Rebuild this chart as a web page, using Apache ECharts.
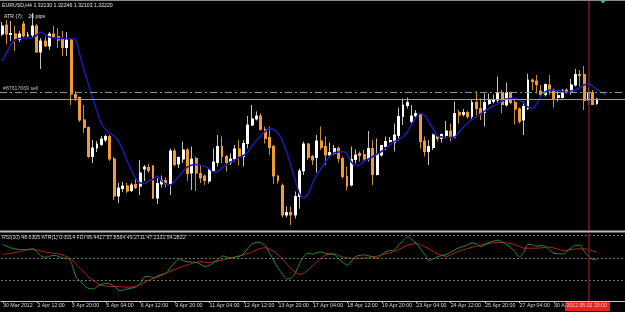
<!DOCTYPE html>
<html>
<head>
<meta charset="utf-8">
<script src="https://cdn.jsdelivr.net/npm/echarts@6/dist/echarts.min.js"></script>
<style>
html,body{margin:0;padding:0;background:#000;}
#chart{width:625px;height:312px;}
</style>
</head>
<body>
<div id="chart"></div>
<script>
// ---- data ----
const tickLabels = ["30 Mar 2012","2 Apr 12:00","3 Apr 20:00","5 Apr 04:00","6 Apr 12:00","9 Apr 20:00","11 Apr 04:00","12 Apr 12:00","13 Apr 20:00","17 Apr 04:00","18 Apr 12:00","19 Apr 20:00","23 Apr 04:00","24 Apr 12:00","25 Apr 20:00","27 Apr 04:00","30 Apr 12:00"];
const slotCount = 145;

const opens = [1.3352,1.3370,1.3351,1.3352,1.3341,1.3372,1.3349,1.3350,1.3368,1.3316,
1.3338,1.3328,1.3352,1.3347,1.3343,1.3325,1.3340,1.3231,1.3225,1.3180,
1.3165,1.3107,1.3124,1.3131,1.3140,1.3147,1.3102,1.3028,1.3043,1.3048,
1.3039,1.3051,1.3048,1.3082,1.3085,1.3088,1.3024,1.3052,1.3059,1.3052,
1.3118,1.3092,1.3102,1.3120,1.3074,1.3103,1.3073,1.3068,1.3058,1.3079,
1.3095,1.3127,1.3107,1.3095,1.3102,1.3122,1.3107,1.3133,1.3170,1.3182,
1.3188,1.3161,1.3145,1.3127,1.3068,1.3049,1.2990,1.2995,1.2990,1.3027,
1.3078,1.3132,1.3107,1.3105,1.3138,1.3127,1.3110,1.3113,1.3123,1.3103,
1.3067,1.3050,1.3101,1.3113,1.3111,1.3102,1.3123,1.3071,1.3110,1.3127,
1.3137,1.3135,1.3149,1.3187,1.3209,1.3177,1.3188,1.3191,1.3138,1.3117,
1.3125,1.3147,1.3143,1.3149,1.3158,1.3145,1.3195,1.3191,1.3195,1.3187,
1.3215,1.3203,1.3195,1.3213,1.3217,1.3220,1.3235,1.3210,1.3235,1.3215,
1.3202,1.3180,1.3203,1.3260,1.3258,1.3238,1.3231,1.3250,1.3240,1.3225,
1.3225,1.3240,1.3235,1.3250,1.3271,1.3271,1.3220,1.3235,1.32130];

const closes = [1.3368,1.3352,1.3353,1.3341,1.3352,1.3348,1.3350,1.3368,1.3316,1.3338,
1.3328,1.3352,1.3346,1.3340,1.3325,1.3340,1.3232,1.3224,1.3180,1.3165,
1.3107,1.3124,1.3132,1.3142,1.3147,1.3102,1.3028,1.3044,1.3048,1.3038,
1.3050,1.3045,1.3074,1.3086,1.3079,1.3024,1.3053,1.3060,1.3052,1.3118,
1.3091,1.3105,1.3120,1.3073,1.3102,1.3074,1.3064,1.3059,1.3080,1.3096,
1.3127,1.3107,1.3095,1.3102,1.3122,1.3107,1.3133,1.3170,1.3182,1.3188,
1.3161,1.3143,1.3125,1.3068,1.3059,1.2990,1.2995,1.2990,1.3027,1.3078,
1.3132,1.3105,1.3100,1.3138,1.3125,1.3110,1.3115,1.3123,1.3103,1.3067,
1.3048,1.3101,1.3110,1.3109,1.3102,1.3123,1.3071,1.3111,1.3129,1.3137,
1.3139,1.3150,1.3187,1.3210,1.3215,1.3188,1.3193,1.3137,1.3117,1.3127,
1.3150,1.3143,1.3151,1.3158,1.3145,1.3193,1.3190,1.3195,1.3187,1.3215,
1.3203,1.3191,1.3215,1.3221,1.3221,1.3235,1.3211,1.3235,1.3215,1.3202,
1.3177,1.3207,1.3260,1.3257,1.3251,1.3231,1.3251,1.3238,1.3223,1.3229,
1.3238,1.3235,1.3250,1.3271,1.3269,1.3219,1.3235,1.3211,1.32220];

const highs = [1.3376,1.3380,1.3378,1.3368,1.3358,1.3378,1.3356,1.3394,1.3372,1.3344,
1.3347,1.3356,1.3368,1.3364,1.3358,1.3356,1.3344,1.3238,1.3227,1.3210,
1.3167,1.3140,1.3138,1.3148,1.3151,1.3150,1.3106,1.3054,1.3056,1.3054,
1.3054,1.3064,1.3100,1.3090,1.3092,1.3090,1.3064,1.3069,1.3065,1.3123,
1.3123,1.3107,1.3137,1.3124,1.3127,1.3107,1.3090,1.3071,1.3083,1.3123,
1.3150,1.3147,1.3110,1.3113,1.3130,1.3140,1.3140,1.3188,1.3210,1.3197,
1.3193,1.3167,1.3167,1.3130,1.3070,1.3053,1.3007,1.3007,1.3037,1.3083,
1.3137,1.3133,1.3110,1.3150,1.3167,1.3147,1.3135,1.3130,1.3127,1.3107,
1.3087,1.3127,1.3121,1.3117,1.3120,1.3158,1.3140,1.3143,1.3130,1.3147,
1.3146,1.3173,1.3205,1.3223,1.3225,1.3210,1.3200,1.3193,1.3147,1.3140,
1.3153,1.3150,1.3153,1.3178,1.3173,1.3217,1.3200,1.3202,1.3198,1.3220,
1.3237,1.3223,1.3233,1.3233,1.3231,1.3267,1.3240,1.3255,1.3237,1.3223,
1.3205,1.3217,1.3273,1.3263,1.3270,1.3250,1.3253,1.3270,1.3243,1.3240,
1.3242,1.3243,1.3262,1.3282,1.3280,1.3288,1.3245,1.3240,1.32246];

const lows = [1.3348,1.3332,1.3338,1.3318,1.3336,1.3344,1.3344,1.3344,1.3314,1.3282,
1.3326,1.3320,1.3344,1.3324,1.3308,1.3308,1.3210,1.3218,1.3176,1.3154,
1.3104,1.3094,1.3116,1.3128,1.3136,1.3098,1.3020,1.3014,1.3036,1.3034,
1.3036,1.3042,1.3030,1.3058,1.3074,1.3022,1.3012,1.3045,1.3045,1.3030,
1.3087,1.3084,1.3094,1.3058,1.3040,1.3038,1.3054,1.3050,1.3053,1.3076,
1.3087,1.3094,1.3077,1.3090,1.3097,1.3089,1.3087,1.3123,1.3168,1.3179,
1.3159,1.3133,1.3110,1.3052,1.3053,1.2985,1.2985,1.2970,1.2983,1.3003,
1.3070,1.3100,1.3090,1.3075,1.3120,1.3090,1.3107,1.3110,1.3095,1.3063,
1.3039,1.3047,1.3093,1.3097,1.3097,1.3097,1.3050,1.3069,1.3107,1.3120,
1.3134,1.3117,1.3138,1.3170,1.3203,1.3173,1.3185,1.3123,1.3107,1.3090,
1.3120,1.3137,1.3135,1.3143,1.3137,1.3143,1.3173,1.3187,1.3183,1.3180,
1.3190,1.3180,1.3167,1.3210,1.3213,1.3215,1.3193,1.3207,1.3211,1.3171,
1.3173,1.3150,1.3200,1.3240,1.3233,1.3227,1.3227,1.3230,1.3205,1.3217,
1.3223,1.3233,1.3231,1.3247,1.3247,1.3200,1.3210,1.3210,1.32103];

const maValues = [1.3298,1.3314,1.3330,1.3340,1.3343,1.3344,1.3344,1.3344,1.3350,1.3356,
1.3351,1.3346,1.3344,1.3343,1.3343,1.3343,1.3343,1.3341,1.3311,1.3280,
1.3252,1.3224,1.3197,1.3173,1.3161,1.3153,1.3148,1.3137,1.3120,1.3098,
1.3080,1.3063,1.3054,1.3053,1.3058,1.3061,1.3068,1.3058,1.3052,1.3050,
1.3058,1.3067,1.3078,1.3086,1.3090,1.3091,1.3090,1.3087,1.3083,1.3076,
1.3077,1.3084,1.3090,1.3096,1.3100,1.3105,1.3109,1.3116,1.3128,1.3139,
1.3148,1.3157,1.3163,1.3161,1.3154,1.3139,1.3117,1.3088,1.3060,1.3032,
1.3024,1.3033,1.3054,1.3070,1.3083,1.3096,1.3107,1.3114,1.3116,1.3117,
1.3112,1.3096,1.3089,1.3090,1.3098,1.3102,1.3107,1.3112,1.3117,1.3124,
1.3131,1.3137,1.3141,1.3146,1.3156,1.3171,1.3185,1.3193,1.3190,1.3176,
1.3162,1.3148,1.3146,1.3145,1.3145,1.3146,1.3156,1.3165,1.3174,1.3181,
1.3186,1.3192,1.3198,1.3203,1.3208,1.3212,1.3218,1.3222,1.3223,1.3223,
1.3220,1.3214,1.3206,1.3203,1.3212,1.3228,1.3236,1.3240,1.3240,1.3239,
1.3237,1.3235,1.3238,1.3240,1.3244,1.3250,1.3253,1.3248,1.3241,1.3236,
1.3230];

const sellPrice = 1.3235;
const bidPrice = 1.32220;
const markerBar = 136;

const signalValues = [53.5,54,54.5,55.2,56,56.8,57.5,58,57.3,56.3,
55.4,55,54.3,53.7,52.5,51,48.5,44.5,40.7,36.8,
32.9,30.2,27.5,26,25.3,24.8,24.8,24.8,24.5,24.3,
24.6,25.6,26.8,28.7,30.6,32,33.3,34.9,36.8,38.6,
40.1,41.7,43,44.3,45.5,46.4,46.9,46.5,46.2,46.8,
47.5,48.4,49.5,50.4,51.3,52.2,53.3,54.3,55.9,57.6,
58.8,59.4,58.1,55.9,52.6,49.2,44.6,40.2,37.5,35.8,
37,40,43.5,47,50.5,52.8,54,53.8,52.3,50.8,
50.4,50.2,50,50,50.3,50.8,51.4,51.9,53,54,
55,55.9,57.8,59.8,61.7,62.4,63.1,62.1,60.2,58.2,
55.9,53.6,52.7,51.6,52.8,54.8,56.4,57.5,58.6,59.7,
60.7,61.7,62.5,63.1,63.7,64.2,63.9,63.6,63.2,61.8,
60.3,58.9,58.9,58.9,58.9,59.2,59.5,59.8,59,58,
57,57.2,57.7,58.2,58.3,58.3,57.8,56.4,55.2];

const rsiValues = [62,60.5,59,58.1,57.7,57.5,57.9,58.3,55,51.5,
50.8,52,52.6,51.3,50,50,44.5,33.3,29.3,25.5,
23,22.8,25.1,26.8,27.8,26.9,24.8,21.2,21.8,22.8,
23.6,24.5,28.4,33.6,33.7,32.5,34.5,35.8,37.2,42,
46.5,49,47.7,46.8,46.6,46.1,44.3,42.7,43.7,46.3,
49,52,51.1,50.2,51.1,51.7,54.4,59.2,62.9,64.2,
63.5,61,53.8,47.2,40.8,35.5,31.5,32.4,37.5,46,
52,54.4,53.5,55.2,55.4,54.3,53.6,53.2,49.6,46.2,
43.8,47.5,51.5,52.6,52.9,52.1,51,50.1,53.3,55.9,
56.7,57.4,62,66,69,66.8,63.3,58.2,53.2,48,
49.5,51.4,52.3,53.3,55.1,57.5,59.4,60.6,62,63.5,
62.8,60.3,62.2,64.1,65.2,66.1,64.2,62.1,59.2,55.7,
51,55.3,62.2,62,60.4,61.2,60.6,57,54.4,54,
53.7,56,59.1,61.5,61.6,56.3,51.9,49.1,48.63];

const rsiLevels = [70, 50, 30];

// ---- build ----
const categories = Array.from({length: slotCount}, (_, i) => 'b' + i);
const candleData = opens.map((o, i) => [o, closes[i], lows[i], highs[i]]);
const bodyData = opens.map((o, i) => [o, closes[i], Math.min(o, closes[i]), Math.max(o, closes[i])]);
const isTick = (idx) => idx % 8 === 0 && idx / 8 < tickLabels.length;
const FONT = '"Liberation Sans", Arial, sans-serif';
const markerLine = {xAxis: categories[markerBar], lineStyle: {color: '#7a1d16', width: 1.5, type: 'solid'}};

const chart = echarts.init(document.getElementById('chart'), null, {renderer: 'canvas'});
chart.setOption({
  backgroundColor: '#000000',
  animation: false,
  grid: [
    {left: -3, right: 0, top: 1, height: 229},
    {left: -3, right: 0, top: 233, height: 68}
  ],
  xAxis: [
    {type: 'category', gridIndex: 0, data: categories, boundaryGap: true, show: false},
    {type: 'category', gridIndex: 1, data: categories, boundaryGap: true,
     axisLine: {show: true, lineStyle: {color: '#c8c8c8', width: 1}},
     axisTick: {show: true, interval: isTick, alignWithLabel: true, length: 2, lineStyle: {color: '#c8c8c8'}},
     axisLabel: {interval: isTick, formatter: (v, idx) => isTick(idx) ? tickLabels[idx / 8] : '',
       color: '#d8d8d8', fontSize: 5.3, fontFamily: FONT, align: 'left', margin: 2},
     splitLine: {show: false}}
  ],
  yAxis: [
    {type: 'value', gridIndex: 0, min: 1.2960, max: 1.3418, show: false, splitLine: {show: false}},
    {type: 'value', gridIndex: 1, min: 12, max: 72.4, show: false, splitLine: {show: false}}
  ],
  series: [
    {
      name: 'wicks', type: 'candlestick', xAxisIndex: 0, yAxisIndex: 0, data: candleData,
      barWidth: 2.4, silent: true,
      itemStyle: {color: '#bfbfbf', color0: '#c98a35', borderColor: '#bfbfbf', borderColor0: '#c98a35', borderWidth: 1}
    },
    {
      name: 'EURUSD,H4', type: 'candlestick', xAxisIndex: 0, yAxisIndex: 0, data: bodyData,
      barWidth: 2.4, silent: true,
      itemStyle: {color: '#ffffff', color0: '#f29b2e', borderColor: '#ffffff', borderColor0: '#f29b2e', borderWidth: 1},
      markLine: {
        silent: true, symbol: 'none', label: {show: false}, precision: 6,
        data: [markerLine]
      }
    },
    {
      name: 'MA', type: 'line', xAxisIndex: 0, yAxisIndex: 0, data: maValues,
      showSymbol: false, smooth: 0.3, silent: true,
      lineStyle: {color: '#1a1aaa', width: 1.6},
      markLine: {
        silent: true, symbol: 'none', label: {show: false}, precision: 6,
        data: [
          {yAxis: sellPrice, lineStyle: {color: '#7c9a8a', width: 1, type: [7, 3, 2, 3]}},
          {yAxis: bidPrice, lineStyle: {color: '#8fa099', width: 1, type: 'solid'}}
        ]
      }
    },
    {
      name: 'signal', type: 'line', xAxisIndex: 1, yAxisIndex: 1, data: signalValues,
      showSymbol: false, smooth: 0.3, silent: true,
      lineStyle: {color: '#b3261e', width: 1}
    },
    {
      name: 'RSI(10)', type: 'line', xAxisIndex: 1, yAxisIndex: 1, data: rsiValues,
      showSymbol: false, smooth: 0.3, silent: true,
      lineStyle: {color: '#2f8a2f', width: 1},
      markLine: {
        silent: true, symbol: 'none', label: {show: false}, precision: 6,
        data: rsiLevels.map(v => ({yAxis: v, lineStyle: {color: '#7a7a7a', width: 1, type: [2, 2]}}))
          .concat([markerLine])
      }
    }
  ],
  graphic: [
    {type: 'rect', z: 50, shape: {x: 0, y: 0, width: 625, height: 1}, style: {fill: '#8a8a8a'}},
    {type: 'rect', z: 50, shape: {x: 0, y: 230.5, width: 625, height: 2}, style: {fill: '#bdbdbd'}},
    {type: 'text', z: 60, x: 2, y: 3, style: {text: 'EURUSD,H4 1.32130 1.32246 1.32103 1.32220', fill: '#e0e0e0', fontSize: 5.2, fontFamily: FONT, textVerticalAlign: 'top'}},
    {type: 'text', z: 60, x: 4, y: 14, style: {text: 'ATR (7):', fill: '#e0e0e0', fontSize: 5.2, fontFamily: FONT, textVerticalAlign: 'top'}},
    {type: 'text', z: 60, x: 28.3, y: 14, style: {text: '26 pips', fill: '#e0e0e0', fontSize: 5.2, fontFamily: FONT, textVerticalAlign: 'top'}},
    {type: 'text', z: 60, x: 3, y: 86.5, style: {text: '#87617669 sell', fill: '#b8b8b8', fontSize: 5.2, fontFamily: FONT, textVerticalAlign: 'top'}},
    {type: 'text', z: 60, x: 2, y: 235.5, style: {text: 'RSI(10) 48.6305 ATR(1) 0.0014 FDI 66.4417 57.8564 49.2711 47.2131 54.2822', fill: '#d0d0d0', fontSize: 5.2, fontFamily: FONT, textVerticalAlign: 'top'}},
    {type: 'polygon', z: 60, shape: {points: [[600.5, 0.5], [605.5, 0.5], [603, 3.5]]}, style: {fill: '#3fbfbf'}},
    {type: 'rect', z: 60, shape: {x: 565, y: 302, width: 45, height: 9}, style: {fill: '#e0251f'}},
    {type: 'text', z: 61, x: 566.5, y: 303.5, style: {text: '2012.05.02 20:00', fill: '#ffc8c8', fontSize: 5.2, fontFamily: FONT, textVerticalAlign: 'top'}}
  ]
});
</script>
</body>
</html>
